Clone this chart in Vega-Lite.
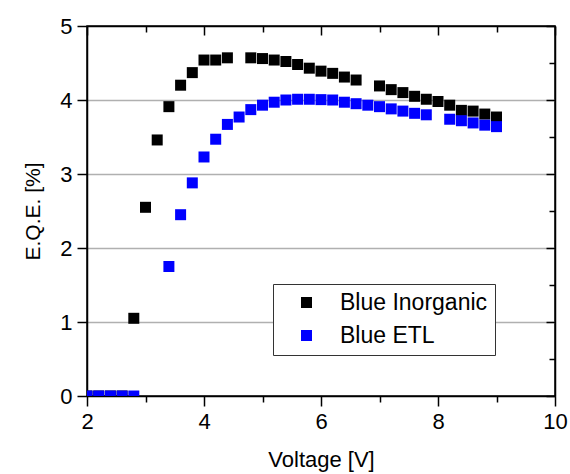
{
  "$schema": "https://vega.github.io/schema/vega-lite/v6.json",
  "autosize": "none",
  "width": 468,
  "height": 370,
  "padding": {"left": 87, "top": 26, "right": 15, "bottom": 78},
  "background": "white",
  "config": {
    "font": "Liberation Sans",
    "view": {"stroke": "black", "strokeWidth": 1.5}
  },
  "data": {
    "values": [
      {"V": 2.0, "eqe": 0, "series": "Blue Inorganic"},
      {"V": 2.2, "eqe": 0, "series": "Blue Inorganic"},
      {"V": 2.4, "eqe": 0, "series": "Blue Inorganic"},
      {"V": 2.6, "eqe": 0, "series": "Blue Inorganic"},
      {"V": 2.8, "eqe": 1.05, "series": "Blue Inorganic"},
      {"V": 3.0, "eqe": 2.55, "series": "Blue Inorganic"},
      {"V": 3.2, "eqe": 3.46, "series": "Blue Inorganic"},
      {"V": 3.4, "eqe": 3.91, "series": "Blue Inorganic"},
      {"V": 3.6, "eqe": 4.20, "series": "Blue Inorganic"},
      {"V": 3.8, "eqe": 4.37, "series": "Blue Inorganic"},
      {"V": 4.0, "eqe": 4.54, "series": "Blue Inorganic"},
      {"V": 4.2, "eqe": 4.54, "series": "Blue Inorganic"},
      {"V": 4.4, "eqe": 4.57, "series": "Blue Inorganic"},
      {"V": 4.8, "eqe": 4.57, "series": "Blue Inorganic"},
      {"V": 5.0, "eqe": 4.56, "series": "Blue Inorganic"},
      {"V": 5.2, "eqe": 4.54, "series": "Blue Inorganic"},
      {"V": 5.4, "eqe": 4.52, "series": "Blue Inorganic"},
      {"V": 5.6, "eqe": 4.48, "series": "Blue Inorganic"},
      {"V": 5.8, "eqe": 4.43, "series": "Blue Inorganic"},
      {"V": 6.0, "eqe": 4.39, "series": "Blue Inorganic"},
      {"V": 6.2, "eqe": 4.36, "series": "Blue Inorganic"},
      {"V": 6.4, "eqe": 4.31, "series": "Blue Inorganic"},
      {"V": 6.6, "eqe": 4.27, "series": "Blue Inorganic"},
      {"V": 7.0, "eqe": 4.19, "series": "Blue Inorganic"},
      {"V": 7.2, "eqe": 4.14, "series": "Blue Inorganic"},
      {"V": 7.4, "eqe": 4.10, "series": "Blue Inorganic"},
      {"V": 7.6, "eqe": 4.05, "series": "Blue Inorganic"},
      {"V": 7.8, "eqe": 4.01, "series": "Blue Inorganic"},
      {"V": 8.0, "eqe": 3.98, "series": "Blue Inorganic"},
      {"V": 8.2, "eqe": 3.93, "series": "Blue Inorganic"},
      {"V": 8.4, "eqe": 3.86, "series": "Blue Inorganic"},
      {"V": 8.6, "eqe": 3.85, "series": "Blue Inorganic"},
      {"V": 8.8, "eqe": 3.81, "series": "Blue Inorganic"},
      {"V": 9.0, "eqe": 3.77, "series": "Blue Inorganic"},
      {"V": 2.0, "eqe": 0, "series": "Blue ETL"},
      {"V": 2.2, "eqe": 0, "series": "Blue ETL"},
      {"V": 2.4, "eqe": 0, "series": "Blue ETL"},
      {"V": 2.6, "eqe": 0, "series": "Blue ETL"},
      {"V": 2.8, "eqe": 0, "series": "Blue ETL"},
      {"V": 3.4, "eqe": 1.75, "series": "Blue ETL"},
      {"V": 3.6, "eqe": 2.45, "series": "Blue ETL"},
      {"V": 3.8, "eqe": 2.88, "series": "Blue ETL"},
      {"V": 4.0, "eqe": 3.23, "series": "Blue ETL"},
      {"V": 4.2, "eqe": 3.47, "series": "Blue ETL"},
      {"V": 4.4, "eqe": 3.67, "series": "Blue ETL"},
      {"V": 4.6, "eqe": 3.77, "series": "Blue ETL"},
      {"V": 4.8, "eqe": 3.87, "series": "Blue ETL"},
      {"V": 5.0, "eqe": 3.93, "series": "Blue ETL"},
      {"V": 5.2, "eqe": 3.97, "series": "Blue ETL"},
      {"V": 5.4, "eqe": 4.00, "series": "Blue ETL"},
      {"V": 5.6, "eqe": 4.01, "series": "Blue ETL"},
      {"V": 5.8, "eqe": 4.01, "series": "Blue ETL"},
      {"V": 6.0, "eqe": 4.005, "series": "Blue ETL"},
      {"V": 6.2, "eqe": 4.00, "series": "Blue ETL"},
      {"V": 6.4, "eqe": 3.97, "series": "Blue ETL"},
      {"V": 6.6, "eqe": 3.95, "series": "Blue ETL"},
      {"V": 6.8, "eqe": 3.93, "series": "Blue ETL"},
      {"V": 7.0, "eqe": 3.91, "series": "Blue ETL"},
      {"V": 7.2, "eqe": 3.88, "series": "Blue ETL"},
      {"V": 7.4, "eqe": 3.85, "series": "Blue ETL"},
      {"V": 7.6, "eqe": 3.82, "series": "Blue ETL"},
      {"V": 7.8, "eqe": 3.80, "series": "Blue ETL"},
      {"V": 8.2, "eqe": 3.74, "series": "Blue ETL"},
      {"V": 8.4, "eqe": 3.72, "series": "Blue ETL"},
      {"V": 8.6, "eqe": 3.69, "series": "Blue ETL"},
      {"V": 8.8, "eqe": 3.66, "series": "Blue ETL"},
      {"V": 9.0, "eqe": 3.64, "series": "Blue ETL"}
    ]
  },
  "layer": [
    {
      "mark": {"type": "point", "shape": "square", "filled": true, "size": 121, "opacity": 1, "clip": true},
      "encoding": {
        "x": {
          "field": "V", "type": "quantitative",
          "scale": {"domain": [2, 10], "nice": false, "zero": false},
          "axis": {
            "orient": "bottom", "title": "Voltage [V]",
            "values": [2, 3, 4, 5, 6, 7, 8, 9, 10],
            "format": "d",
            "labelExpr": "datum.value % 2 == 0 ? datum.label : ''",
            "tickSize": {"condition": {"test": "datum.value % 2 == 0", "value": 10}, "value": 6},
            "grid": false, "domainColor": "black", "domainWidth": 1.5,
            "tickColor": "black", "tickWidth": 1.5,
            "labelFontSize": 22, "labelColor": "black", "labelPadding": 5,
            "labelFlush": false, "labelOverlap": false,
            "titleFontSize": 22, "titleFontWeight": "normal", "titleColor": "black", "titlePadding": 17
          }
        },
        "y": {
          "field": "eqe", "type": "quantitative",
          "scale": {"domain": [0, 5], "nice": false},
          "axis": {
            "orient": "left", "title": "E.Q.E. [%]",
            "values": [0, 0.5, 1, 1.5, 2, 2.5, 3, 3.5, 4, 4.5, 5],
            "format": "d",
            "labelExpr": "datum.value % 1 == 0 ? datum.label : ''",
            "tickSize": {"condition": {"test": "datum.value % 1 == 0", "value": 10}, "value": 6},
            "grid": true, "gridColor": "#b0b0b0", "gridWidth": 1.5,
            "gridOpacity": {"condition": {"test": "datum.value % 1 == 0 && datum.value > 0 && datum.value < 5", "value": 1}, "value": 0},
            "domainColor": "black", "domainWidth": 1.5,
            "tickColor": "black", "tickWidth": 1.5,
            "labelFontSize": 22, "labelColor": "black", "labelPadding": 5,
            "labelFlush": false, "labelOverlap": false,
            "titleFontSize": 21, "titleFontWeight": "normal", "titleColor": "black", "titlePadding": 16
          }
        },
        "color": {
          "field": "series", "type": "nominal",
          "scale": {"domain": ["Blue Inorganic", "Blue ETL"], "range": ["#000000", "#0000ff"]},
          "legend": {
            "orient": "none", "legendX": 186, "legendY": 258,
            "title": null, "fillColor": "white", "strokeColor": "#333333",
            "padding": 7, "symbolOffset": 15, "labelOffset": 22, "rowPadding": 9,
            "symbolType": "square", "symbolSize": 121, "symbolStrokeWidth": 0,
            "labelFontSize": 23, "labelColor": "black", "labelLimit": 300
          }
        }
      }
    },
    {
      "mark": {"type": "point", "opacity": 0},
      "encoding": {
        "x": {
          "field": "V", "type": "quantitative",
          "axis": {
            "orient": "top", "title": null, "labels": false,
            "values": [2, 3, 4, 5, 6, 7, 8, 9, 10],
            "tickSize": {"condition": {"test": "datum.value % 2 == 0", "value": -9}, "value": -6},
            "grid": false, "domainColor": "black", "domainWidth": 1.5,
            "tickColor": "black", "tickWidth": 1.5
          }
        },
        "y": {
          "field": "eqe", "type": "quantitative",
          "axis": {
            "orient": "right", "title": null, "labels": false,
            "values": [0, 0.5, 1, 1.5, 2, 2.5, 3, 3.5, 4, 4.5, 5],
            "tickSize": {"condition": {"test": "datum.value % 1 == 0", "value": -9}, "value": -6},
            "grid": false, "domainColor": "black", "domainWidth": 1.5,
            "tickColor": "black", "tickWidth": 1.5
          }
        }
      }
    }
  ],
  "resolve": {"axis": {"x": "independent", "y": "independent"}}
}
